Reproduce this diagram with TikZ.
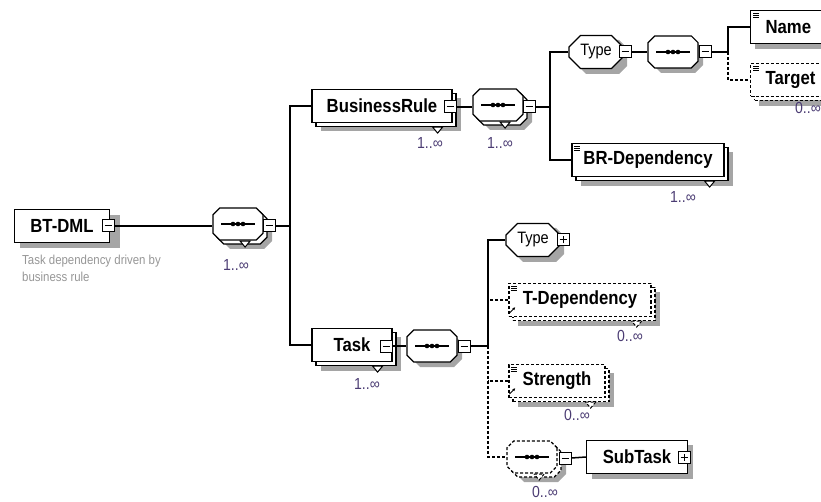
\documentclass[tikz,border=0pt]{standalone}
\usepackage{fontspec}
\setmainfont{Liberation Sans}
\newfontfamily\xsfont[FakeStretch=0.88]{Liberation Sans}
\usepackage{xcolor}
\usetikzlibrary{shapes.misc}
\usetikzlibrary{arrows.meta}

\definecolor{shadowgray}{RGB}{165,165,165}
\definecolor{multcolor}{RGB}{75,60,115}
\definecolor{notegray}{RGB}{150,150,150}

\tikzset{
  box/.style={draw, line width=1.2pt, fill=white, minimum height=33pt},
  many/.style={preaction={fill=white, draw, transform canvas={shift={(4pt,-4pt)}}}},
  opt/.style={dash pattern=on 3pt off 2pt},
  elem/.style={box, font=\xsfont\bfseries\fontsize{19}{21}\selectfont},
  elemmany/.style={box, many, font=\xsfont\bfseries\fontsize{19}{21}\selectfont},
  ctype/.style={box, chamfered rectangle, chamfered rectangle xsep=8pt,
                font=\xsfont\fontsize{16.5}{18}\selectfont},
  seqmark/.style={path picture={
      \draw[solid, black, line width=1.2pt] ([xshift=8pt]path picture bounding box.west) -- ([xshift=-8pt]path picture bounding box.east);
      \foreach \dx in {-5,0,5} \fill[black] ([xshift=\dx pt]path picture bounding box.center) circle (2.3pt);}},
  seq/.style={box, chamfered rectangle, chamfered rectangle xsep=8pt,
              minimum width=50pt, minimum height=32pt, seqmark},
  seqmany/.style={seq, many},
  tglm/.style={draw, line width=1pt, fill=white, minimum size=12pt, inner sep=0pt,
      path picture={\draw ([xshift=2.5pt]path picture bounding box.west) -- ([xshift=-2.5pt]path picture bounding box.east);}},
  tglp/.style={draw, line width=1pt, fill=white, minimum size=12pt, inner sep=0pt,
      path picture={\draw ([xshift=2.5pt]path picture bounding box.west) -- ([xshift=-2.5pt]path picture bounding box.east);
                    \draw ([yshift=2.5pt]path picture bounding box.south) -- ([yshift=-2.5pt]path picture bounding box.north);}},
  mult/.style={inner sep=0pt, text=multcolor, font=\xsfont\fontsize{16}{18}\selectfont},
  conn/.style={line width=1.5pt},
  shadow/.style={fill=shadowgray}
}

% small triangle under a repeated box
\newcommand{\mnotch}[2][]{\draw[line width=1pt, fill=white, #1] ([xshift=-20pt,yshift=-4pt]#2.south east) -- ++(10,0) -- ++(-5,6) -- cycle;}
% three lines for simple content
\newcommand{\simplemark}[1]{\foreach \k in {0,1,2} \draw[line width=0.6pt] ([xshift=3pt,yshift=-3pt-\k*2pt]#1.north west) -- ++(6,0);}
% reference arrow
\newcommand{\refmark}[1]{\draw[line width=0.9pt, -{Latex[length=3pt,width=3pt]}] ([xshift=1pt,yshift=4pt]#1.south west) -- ++(6,-6);}
% gray shadows, drawn first at fixed places: (x1,y1,x2,y2)
\newcommand{\boxshadow}[4]{\path[shadow] (#1,#2) rectangle (#3,#4);}
\newcommand{\octshadow}[4]{\path[shadow] (#1+8,#2) -- (#3-8,#2) -- (#3,#2+8) -- (#3,#4-8) -- (#3-8,#4) -- (#1+8,#4) -- (#1,#4-8) -- (#1,#2+8) -- cycle;}

\begin{document}
\begin{tikzpicture}[x=1pt, y=-1pt]
	 \useasboundingbox (0,0) rectangle (821,502);
	 %
	 %shadows
	 \boxshadow{20}{215}{120}{248}
	 \boxshadow{755}{15}{840}{49}
	 \boxshadow{592}{445}{693}{479}
	 \boxshadow{321}{98}{461}{131}
	 \boxshadow{581}{152}{733}{186}
	 \boxshadow{321}{337}{401}{371}
	 \boxshadow{759}{72}{850}{106}
	 \boxshadow{518}{292}{660}{326}
	 \boxshadow{518}{373}{614}{407}
	 \octshadow{578}{40}{627}{74}
	 \octshadow{515}{228}{564}{262}
	 \octshadow{653}{41}{703}{73}
	 \octshadow{412}{335}{462}{367}
	 \octshadow{222}{217}{272}{249}
	 \octshadow{482}{98}{532}{130}
	 \octshadow{516}{450}{566}{482}
	 %
	 %root
	 \node (bt) at (62,226) [elem, minimum width=95pt] {BT-DML};
	 \node (btt) at (108,226) [tglm] {};
	 \node (note) at (22,255) [anchor=north west, inner sep=0pt, align=left, text=notegray,
	       font=\xsfont\fontsize{13}{16.5}\selectfont] {Task dependency driven by\\business rule};
	 %
	 %Sequenz 1
	 \node (s1) at (238,224) [seqmany] {};
	 \node (s1t) at (269,226) [tglm] {};
	 \node (m1) at (236,265) [mult] {1..∞};
	 \coordinate (j1) at (290,226);
	 %
	 %BusinessRule
	 \node (br) at (382,106) [elemmany, minimum width=140pt] {BusinessRule\hspace{8pt}};
	 \node (brt) at (450,107) [tglm] {};
	 \node (m2) at (430,143) [mult] {1..∞};
	 %
	 %Sequenz 2
	 \node (s2) at (498,105) [seqmany] {};
	 \node (s2t) at (529,107) [tglm] {};
	 \node (m3) at (500,143) [mult] {1..∞};
	 \coordinate (j2) at (550,107);
	 %
	 %Type oben
	 \node (ty1) at (596,52) [ctype, minimum width=47pt] {Type};
	 \node (ty1t) at (625,52) [tglm] {};
	 %
	 %Sequenz 3
	 \node (s3) at (673,52) [seq] {};
	 \node (s3t) at (705,52) [tglm] {};
	 \coordinate (j3) at (728,52);
	 %
	 %Name, Target
	 \node (name) at (750,27) [elem, anchor=west, minimum width=90pt, text width=60pt, inner xsep=13pt, align=left] {Name};
	 \node (target) at (750,80) [elemmany, opt, anchor=west, minimum width=90pt, text width=60pt, inner xsep=13pt, align=left] {Target};
	 \node (m4) at (808,108) [mult] {0..∞};
	 %
	 %BR-Dependency
	 \node (brd) at (648,160) [elemmany, minimum width=152pt] {BR-Dependency};
	 \node (m5) at (683,197) [mult] {1..∞};
	 %
	 %Task
	 \node (task) at (352,345) [elemmany, minimum width=80pt] {Task\hspace{10pt}};
	 \node (taskt) at (386,346) [tglm] {};
	 \node (m6) at (367,384) [mult] {1..∞};
	 %
	 %Sequenz 4
	 \node (s4) at (432,346) [seq] {};
	 \node (s4t) at (464,346) [tglm] {};
	 \coordinate (j4) at (488,346);
	 %
	 %Type unten
	 \node (ty2) at (533,240) [ctype, minimum width=47pt] {Type};
	 \node (ty2t) at (563,240) [tglp] {};
	 %
	 %T-Dependency
	 \node (tdep) at (580,300) [elemmany, opt, minimum width=142pt] {T-Dependency};
	 \node (m7) at (630,336) [mult] {0..∞};
	 %
	 %Strength
	 \node (str) at (557,381) [elemmany, opt, minimum width=96pt] {Strength};
	 \node (m8) at (577,415) [mult] {0..∞};
	 %
	 %Sequenz 5
	 \node (s5) at (532,457) [seqmany, opt] {};
	 \node (s5t) at (565,458) [tglm] {};
	 \node (m9) at (545,492) [mult] {0..∞};
	 %
	 %SubTask
	 \node (sub) at (637,457) [elem, minimum width=101pt] {SubTask\hspace{8pt}};
	 \node (subt) at (684,457) [tglp] {};
	 %
	 %marks
	 \mnotch{s1} \mnotch{br} \mnotch{s2} \mnotch{brd} \mnotch{task}
	 \mnotch[opt]{target} \mnotch[opt]{tdep} \mnotch[opt]{str} \mnotch[opt]{s5}
	 \simplemark{name} \simplemark{target} \simplemark{brd} \simplemark{tdep} \simplemark{str}
	 \refmark{tdep} \refmark{str}
	 %
	 %BT-DML - Sequenz 1
	 \draw[conn] (btt.east) -- (btt.east -| s1.west);
	 \draw[conn] (s1t.east) -- (j1);
	 \draw[conn] (br.west) -| (j1) |- (task.west);
	 %
	 %BusinessRule - Sequenz 2
	 \draw[conn] (brt.east) -- (brt.east -| s2.west);
	 \draw[conn] (s2t.east) -- (j2);
	 \draw[conn] (ty1.west) -| (j2) |- (brd.west);
	 %
	 %Type - Sequenz 3 - Name/Target
	 \draw[conn] (ty1t.east) -- (s3.west);
	 \draw[conn] (s3t.east) -- (j3);
	 \draw[conn] (name.west) -| (j3);
	 \draw[conn, opt] (j3) |- (target.west);
	 %
	 %Task - Sequenz 4
	 \draw[conn] (taskt.east) -- (s4.west);
	 \draw[conn] (s4t.east) -- (j4);
	 \draw[conn] (ty2.west) -| (j4);
	 \draw[conn, opt] (tdep.west) -- (tdep.west -| j4);
	 \draw[conn, opt] (str.west) -- (str.west -| j4);
	 \draw[conn, opt] (j4) |- (s5.west);
	 %
	 %Sequenz 5 - SubTask
	 \draw[conn] (s5t.east) -- (sub.west);
\end{tikzpicture}
\end{document}
